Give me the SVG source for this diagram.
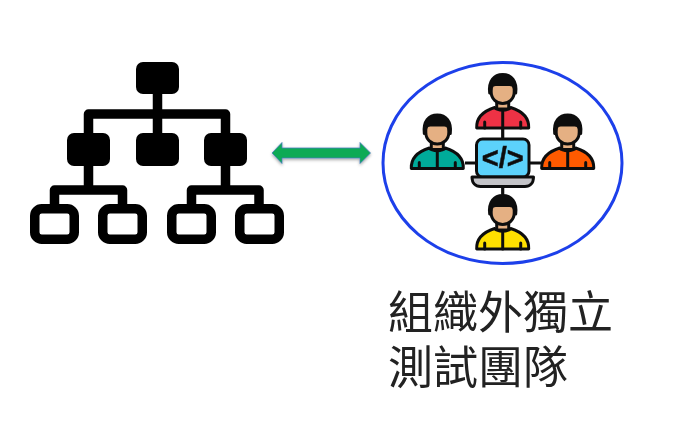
<svg xmlns="http://www.w3.org/2000/svg" width="690" height="436" viewBox="0 0 690 436">
  <style>
    .solid{fill:#000}
    .hollow{fill:#fff;stroke:#000;stroke-width:9.5}
    .tree{fill:none;stroke:#000;stroke-width:9.5;stroke-linejoin:round}
    .ink{stroke:#111;stroke-width:3;stroke-linejoin:round;stroke-linecap:round}
    .wire{fill:none;stroke:#111;stroke-width:3.2}
    .label{font-family:"Noto Sans CJK TC","Noto Sans CJK SC",sans-serif;font-size:45px;font-weight:400;fill:#222}
    .code{font-family:"Liberation Sans",sans-serif;font-size:29px;font-weight:700;fill:#111;stroke:#111;stroke-width:0.5;text-anchor:middle}
  </style>
  <defs>
    <filter id="soft" x="-5%" y="-5%" width="110%" height="110%"><feGaussianBlur stdDeviation="0.6"/></filter>
    <filter id="shadow" x="-10%" y="-60%" width="120%" height="220%"><feDropShadow dx="0" dy="1.5" stdDeviation="1.5" flood-color="#000" flood-opacity="0.35"/></filter>
    <g id="person">
      <path class="ink" fill="#E5B083" d="M-6 8H6V19H-6Z"/>
      <path class="ink" fill="var(--shirt)" d="M-26 38C-26.500 27-19 21-8 17.500C-5 21 5 21 8 17.500C19 21 26.500 27 26 38Z"/>
      <path class="ink" fill="none" d="M0 21V38M-18 38V32M18 38V32"/>
      <path class="ink" fill="#E5B083" d="M-11.500 -6H11.500V2C11.500 9 6 13.500 0 13.500C-6 13.500 -11.500 9 -11.500 2Z"/>
      <path class="ink" fill="#111" d="M-13 3C-14.500 -9 -8.500 -15.500 0 -15.500C8.500 -15.500 14.500 -9 13 3L11.500 -2C11 -4.500 9.500 -5.500 7 -5.500H-7C-9.500 -5.500 -11 -4.500 -11.500 -2Z"/>
    </g>
  </defs>
  <rect width="690" height="436" fill="#fff"/>
  <g filter="url(#soft)">
    <g id="team-circle"><ellipse cx="502.500" cy="163" rx="119.500" ry="100.500" fill="#fff" stroke="#1F3FEA" stroke-width="3"/></g>
    <g id="connectors">
      <path class="tree" d="M157.500 94V133M88.500 133V114H225.500V133M88.500 166V190M54.500 206V190H122.500V206M225.500 166V190M191.500 206V190H259V206"/>
      <g id="link-arrow" filter="url(#shadow)">
        <path fill="#0BAA55" stroke="#4A7EBB" stroke-width="0.8" d="M272 153L282 142.500V148H360V142.500L370.500 153L360 163.500V158H282V163.500Z"/>
      </g>
      <path class="wire" d="M502.700 129V139M502.700 187V197M465 163H476M529 163H541"/>
    </g>
    <g id="org-root"><rect class="solid" x="136" y="62" width="43" height="32" rx="7"/></g>
    <g id="org-mid-left"><rect class="solid" x="67" y="133" width="43" height="33" rx="7"/></g>
    <g id="org-mid-center"><rect class="solid" x="136" y="133" width="43" height="33" rx="7"/></g>
    <g id="org-mid-right"><rect class="solid" x="204" y="133" width="43" height="33" rx="7"/></g>
    <g id="org-leaf-1"><rect class="hollow" x="34.750" y="208.750" width="39.500" height="30.500" rx="7"/></g>
    <g id="org-leaf-2"><rect class="hollow" x="102.750" y="208.750" width="39.500" height="30.500" rx="7"/></g>
    <g id="org-leaf-3"><rect class="hollow" x="171.750" y="208.750" width="39.500" height="30.500" rx="7"/></g>
    <g id="org-leaf-4"><rect class="hollow" x="239.750" y="208.750" width="39.500" height="30.500" rx="7"/></g>
    <g id="person-top" style="--shirt:#EE3344"><use href="#person" x="502.700" y="90"/></g>
    <g id="person-left" style="--shirt:#00AB9A"><use href="#person" x="437.300" y="130.500"/></g>
    <g id="person-right" style="--shirt:#FF5A00"><use href="#person" x="567.700" y="130.500"/></g>
    <g id="person-bottom" style="--shirt:#FFE000"><use href="#person" x="502.700" y="211"/></g>
    <g id="laptop">
      <rect class="ink" x="476.500" y="139" width="52.500" height="38" rx="6" fill="#5CD2FB"/>
      <path class="ink" fill="#C4C4C8" d="M472 177H533.500C533.500 183 530 186.500 525 186.500H480.500C475.500 186.500 472 183 472 177Z"/>
      <text class="code" x="502.700" y="168">&lt;/&gt;</text>
    </g>
    <g id="team-label">
      <text class="label"><tspan x="388" y="329">組織外獨立</tspan><tspan x="388" y="384">測試團隊</tspan></text>
    </g>
  </g>
</svg>
